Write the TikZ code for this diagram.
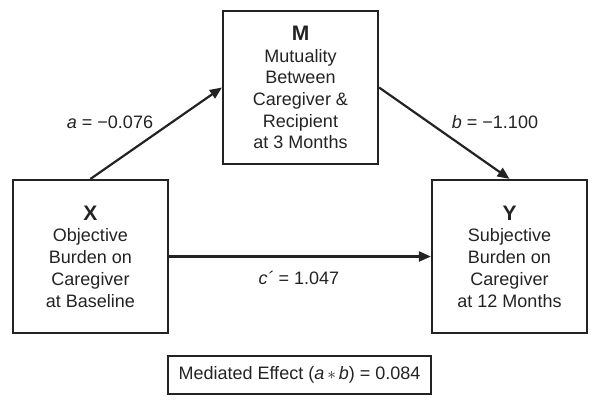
\documentclass[tikz,border=0pt]{standalone}
\usepackage{fontspec}
\setmainfont{Liberation Sans}
\usetikzlibrary{arrows.meta}
\definecolor{ink}{RGB}{35,35,35}
\begin{document}
\begin{tikzpicture}[x=1pt,y=-1pt,
  varbox/.style={draw=ink,line width=2.2pt,minimum width=155pt,minimum height=153pt,
    inner sep=0pt,text=ink,align=center,font=\fontsize{18}{21.7}\selectfont},
  conn/.style={draw=ink,line width=2.2pt,-{Triangle[length=12pt,width=10pt]}},
  lbl/.style={text=ink,font=\fontsize{18}{21.7}\selectfont,inner sep=0pt}]
\useasboundingbox (0,0) rectangle (600,407);
\node[varbox] (M) at (300.5,87.5) {{\fontsize{21}{24}\selectfont\bfseries M}\\Mutuality\\Between\\Caregiver \&\\Recipient\\at 3 Months};
\node[varbox] (X) at (90.5,256.5) {{\fontsize{21}{24}\selectfont\bfseries X}\\Objective\\Burden on\\Caregiver\\at Baseline};
\node[varbox] (Y) at (509.5,256.5) {{\fontsize{21}{24}\selectfont\bfseries Y}\\Subjective\\Burden on\\Caregiver\\at 12 Months};
\node[varbox,minimum width=263pt,minimum height=38pt] (med) at (299.5,375) {Mediated Effect (\textit{a}\,$\ast$\,\textit{b}) = 0.084};
\draw[conn] (X.north) -- (M.west);
\draw[conn] (M.east) -- (Y.north);
\draw[conn] (X.east) -- (Y.west);
\node[lbl] (la) at (110,122) {\textit{a} = −0.076};
\node[lbl] (lb) at (495,122) {\textit{b} = −1.100};
\node[lbl] (lc) at (299,278) {\textit{c´} = 1.047};
\end{tikzpicture}
\end{document}
